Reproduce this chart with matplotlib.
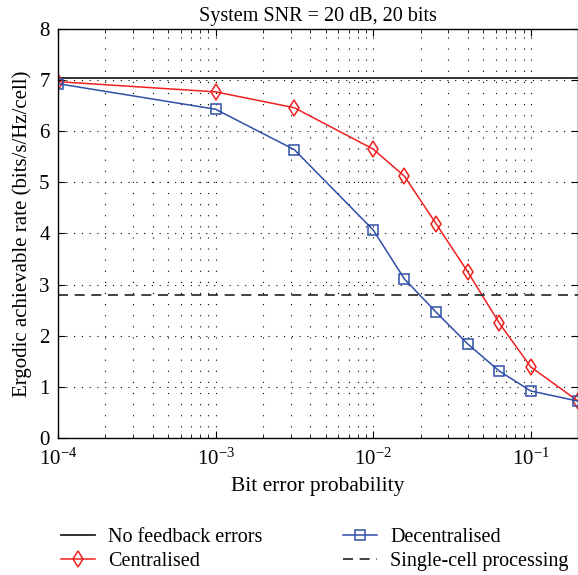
import matplotlib
matplotlib.use('Agg')
import matplotlib.pyplot as plt
import numpy as np
from matplotlib.ticker import LogLocator, NullFormatter

plt.rcParams['font.family'] = ['Liberation Serif', 'DejaVu Serif']
plt.rcParams['mathtext.fontset'] = 'stix'

# bit error probability
ber = [1e-4, 1e-3, 3.16e-3, 1e-2, 1.58e-2, 2.51e-2, 3.98e-2, 6.31e-2, 1e-1, 2e-1]
centralised = [6.97, 6.77, 6.46, 5.65, 5.12, 4.19, 3.25, 2.25, 1.39, 0.72]
decentralised = [6.93, 6.43, 5.64, 4.07, 3.11, 2.46, 1.84, 1.31, 0.92, 0.72]
no_feedback = 7.05
single_cell = 2.80

red = '#f02020'
blue = '#2f4fa8'

fig = plt.figure(figsize=(5.78, 5.75), dpi=100)
ax = fig.add_axes([0.1003, 0.2383, 0.9, 0.7113])

l1 = ax.axhline(no_feedback, color='#222222', lw=1.3, label='No feedback errors')
l2, = ax.plot(ber, centralised, color=red, lw=1.1, marker='d', ms=8,
              mfc='none', mec=red, mew=1.1, label='Centralised')
l3, = ax.plot(ber, decentralised, color=blue, lw=1.1, marker='s', ms=6.5,
              mfc='none', mec=blue, mew=1.1, label='Decentralised')
l4 = ax.axhline(single_cell, color='#222222', lw=1.2, ls=(0, (6, 4)),
                label='Single-cell processing')

ax.set_xscale('log')
ax.set_xlim(1e-4, 2e-1)
ax.set_ylim(0, 8)
ax.set_yticks(range(0, 9))
ax.xaxis.set_major_locator(LogLocator(base=10, numticks=10))
ax.xaxis.set_minor_locator(LogLocator(base=10, subs=np.arange(2, 10), numticks=20))
ax.xaxis.set_minor_formatter(NullFormatter())

# matlab style dotted grid
ax.grid(True, axis='x', which='both', color='k', lw=0.8, ls=(0, (1, 9)))
ax.grid(True, axis='y', which='major', color='k', lw=0.8, ls=(0, (1, 6)))

ax.tick_params(which='both', direction='in', top=True, right=True,
               labelsize=15, color='k')
ax.tick_params(which='major', length=5)
ax.tick_params(axis='x', which='major', pad=8)
ax.tick_params(axis='y', which='major', pad=6)
ax.tick_params(which='minor', length=3)
for s in ax.spines.values():
    s.set_linewidth(1.0)

ax.set_title('System SNR = 20 dB, 20 bits', fontsize=14.5, pad=6)
ax.set_xlabel('Bit error probability', fontsize=15.5, labelpad=5)
ax.set_ylabel('Ergodic achievable rate (bits/s/Hz/cell)', fontsize=15, labelpad=5)

leg = fig.legend(handles=[l1, l2, l3, l4], ncol=2, loc='center left',
                 bbox_to_anchor=(0.074, 0.045), frameon=False, fontsize=14.5,
                 handlelength=1.7, handletextpad=0.65, columnspacing=4.0,
                 labelspacing=0.25)

fig.savefig('out.png', dpi=100)
